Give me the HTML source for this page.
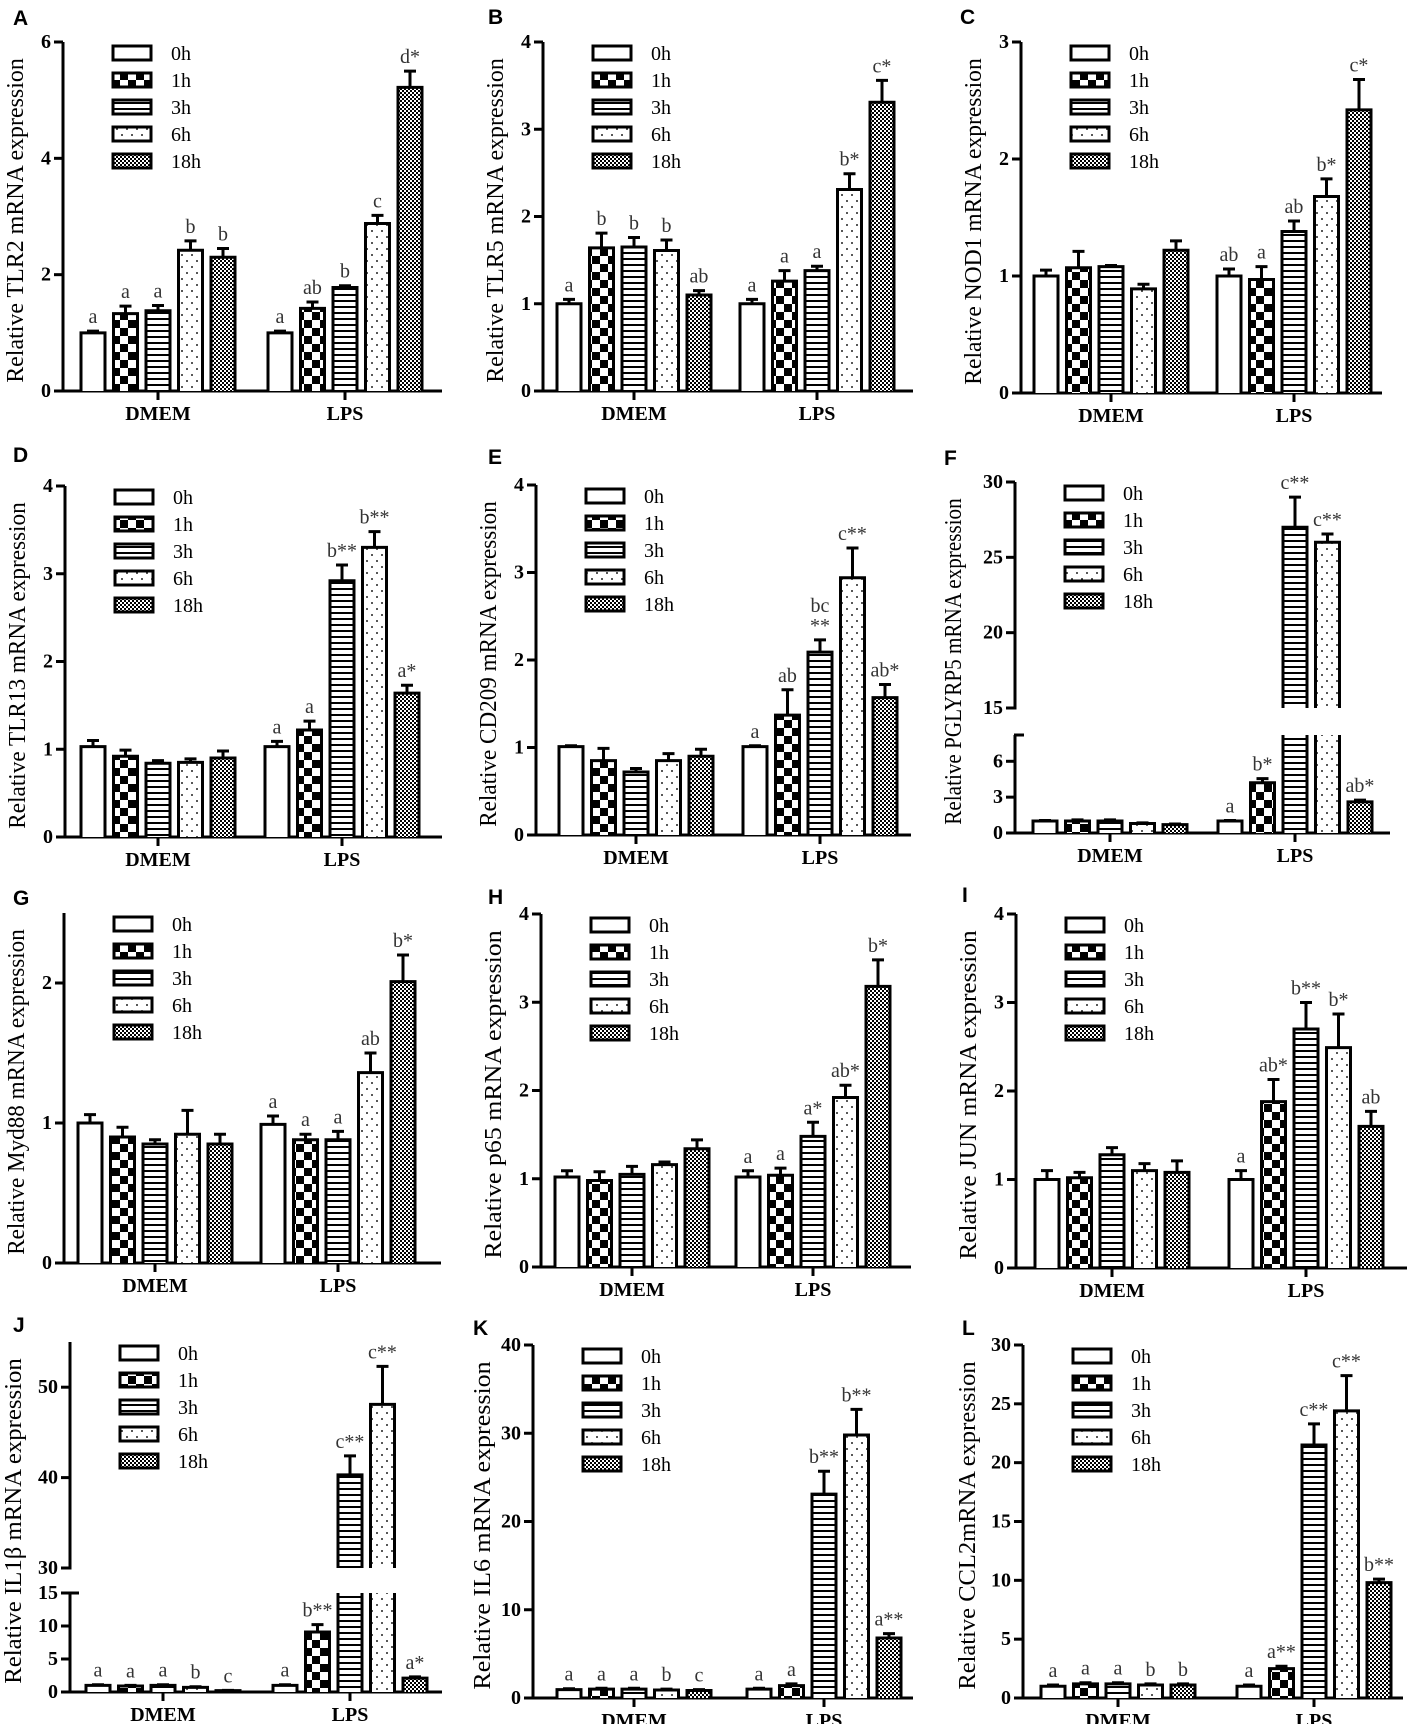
<!DOCTYPE html>
<html><head><meta charset="utf-8">
<style>
html,body{margin:0;padding:0;background:#fff;}
svg{display:block;}
text{font-family:"Liberation Serif",serif;}
.letter{font-family:"Liberation Sans",sans-serif;font-weight:bold;font-size:21px;}
</style></head>
<body>
<svg id="fig" width="1409" height="1724" viewBox="0 0 1409 1724" xmlns="http://www.w3.org/2000/svg">
<defs>
<pattern id="p1" width="16" height="16" patternUnits="userSpaceOnUse"><rect width="16" height="16" fill="#fff"/><rect width="8" height="8" fill="#000"/><rect x="8" y="8" width="8" height="8" fill="#000"/></pattern>
<pattern id="p3" width="6" height="6" patternUnits="userSpaceOnUse"><rect width="6" height="6" fill="#fff"/><rect y="0" width="6" height="2" fill="#000"/></pattern>
<pattern id="p6" width="10" height="12" patternUnits="userSpaceOnUse"><rect width="10" height="12" fill="#fff"/><circle cx="2" cy="3" r="1" fill="#222"/><circle cx="7" cy="9" r="1" fill="#222"/></pattern>
<pattern id="p18" width="4" height="4" patternUnits="userSpaceOnUse"><rect width="4" height="4" fill="#fff"/><rect width="2" height="2" fill="#000"/><rect x="2" y="2" width="2" height="2" fill="#000"/></pattern>
</defs>
</svg>
<script>
// ---------- data ----------
const groups = ["DMEM","LPS"];
const timepoints = ["0h","1h","3h","6h","18h"];

const tlr2Dmem = [1.0,1.33,1.38,2.42,2.3];
const tlr2DmemErr = [0.03,0.13,0.09,0.16,0.15];
const tlr2Lps = [1.0,1.42,1.78,2.88,5.22];
const tlr2LpsErr = [0.03,0.11,0.03,0.14,0.28];
const tlr2DmemLbl = ["a","a","a","b","b"];
const tlr2LpsLbl = ["a","ab","b","c","d*"];

const tlr5Dmem = [1.0,1.64,1.65,1.61,1.1];
const tlr5DmemErr = [0.05,0.17,0.11,0.12,0.05];
const tlr5Lps = [1.0,1.26,1.38,2.31,3.31];
const tlr5LpsErr = [0.05,0.12,0.05,0.18,0.25];
const tlr5DmemLbl = ["a","b","b","b","ab"];
const tlr5LpsLbl = ["a","a","a","b*","c*"];

const nod1Dmem = [1.0,1.07,1.08,0.89,1.22];
const nod1DmemErr = [0.05,0.14,0.01,0.04,0.08];
const nod1Lps = [1.0,0.97,1.38,1.68,2.42];
const nod1LpsErr = [0.06,0.11,0.09,0.15,0.26];
const nod1DmemLbl = ["","","","",""];
const nod1LpsLbl = ["ab","a","ab","b*","c*"];

const tlr13Dmem = [1.03,0.92,0.84,0.85,0.9];
const tlr13DmemErr = [0.07,0.07,0.03,0.04,0.08];
const tlr13Lps = [1.03,1.22,2.92,3.3,1.64];
const tlr13LpsErr = [0.06,0.1,0.18,0.18,0.09];
const tlr13DmemLbl = ["","","","",""];
const tlr13LpsLbl = ["a","a","b**","b**","a*"];

const cd209Dmem = [1.01,0.85,0.72,0.85,0.9];
const cd209DmemErr = [0.01,0.14,0.04,0.08,0.08];
const cd209Lps = [1.01,1.37,2.09,2.94,1.57];
const cd209LpsErr = [0.01,0.29,0.14,0.34,0.15];
const cd209DmemLbl = ["","","","",""];
const cd209LpsLbl = ["a","ab","bc|**","c**","ab*"];

const pglyrp5Dmem = [1.0,1.0,1.0,0.8,0.7];
const pglyrp5DmemErr = [0.05,0.1,0.1,0.05,0.05];
const pglyrp5Lps = [1.0,4.2,27.0,26.0,2.6];
const pglyrp5LpsErr = [0.05,0.35,2.0,0.55,0.15];
const pglyrp5DmemLbl = ["","","","",""];
const pglyrp5LpsLbl = ["a","b*","c**","c**","ab*"];

const myd88Dmem = [1.0,0.9,0.85,0.92,0.85];
const myd88DmemErr = [0.06,0.07,0.03,0.17,0.07];
const myd88Lps = [0.99,0.88,0.88,1.36,2.01];
const myd88LpsErr = [0.06,0.04,0.06,0.14,0.19];
const myd88DmemLbl = ["","","","",""];
const myd88LpsLbl = ["a","a","a","ab","b*"];

const p65Dmem = [1.02,0.98,1.05,1.16,1.34];
const p65DmemErr = [0.07,0.1,0.09,0.03,0.1];
const p65Lps = [1.02,1.04,1.48,1.92,3.18];
const p65LpsErr = [0.07,0.08,0.16,0.14,0.3];
const p65DmemLbl = ["","","","",""];
const p65LpsLbl = ["a","a","a*","ab*","b*"];

const junDmem = [1.0,1.02,1.28,1.1,1.08];
const junDmemErr = [0.1,0.06,0.08,0.08,0.13];
const junLps = [1.0,1.88,2.7,2.49,1.6];
const junLpsErr = [0.1,0.25,0.3,0.38,0.17];
const junDmemLbl = ["","","","",""];
const junLpsLbl = ["a","ab*","b**","b*","ab"];

const il1bDmem = [1.0,0.9,1.0,0.7,0.2];
const il1bDmemErr = [0.1,0.1,0.1,0.1,0.05];
const il1bLps = [1.0,9.1,40.3,48.1,2.1];
const il1bLpsErr = [0.1,1.1,2.1,4.2,0.2];
const il1bDmemLbl = ["a","a","a","b","c"];
const il1bLpsLbl = ["a","b**","c**","c**","a*"];

const il6Dmem = [0.95,1.0,1.0,0.9,0.85];
const il6DmemErr = [0.1,0.1,0.1,0.1,0.1];
const il6Lps = [1.0,1.4,23.1,29.8,6.8];
const il6LpsErr = [0.1,0.2,2.6,2.9,0.5];
const il6DmemLbl = ["a","a","a","b","c"];
const il6LpsLbl = ["a","a","b**","b**","a**"];

const ccl2Dmem = [1.0,1.2,1.2,1.1,1.1];
const ccl2DmemErr = [0.1,0.1,0.1,0.1,0.1];
const ccl2Lps = [1.0,2.5,21.5,24.4,9.8];
const ccl2LpsErr = [0.1,0.2,1.8,3.0,0.3];
const ccl2DmemLbl = ["a","a","a","b","b"];
const ccl2LpsLbl = ["a","a**","c**","c**","b**"];

// ---------- layout ----------
const panels = [
 {key:"tlr2",L:"A",lx:13,ly:25,ax:63,g1:95,g2:282,end:379,ylab:"Relative TLR2 mRNA expression",
  dm:tlr2Dmem,de:tlr2DmemErr,lp:tlr2Lps,le:tlr2LpsErr,dl:tlr2DmemLbl,ll:tlr2LpsLbl,
  segs:[{lo:0,hi:6,yb:391,yt:42,ticks:[0,2,4,6]}]},
 {key:"tlr5",L:"B",lx:488,ly:24,ax:543,g1:91,g2:274,end:370,ylab:"Relative TLR5 mRNA expression",
  dm:tlr5Dmem,de:tlr5DmemErr,lp:tlr5Lps,le:tlr5LpsErr,dl:tlr5DmemLbl,ll:tlr5LpsLbl,
  segs:[{lo:0,hi:4,yb:391,yt:42,ticks:[0,1,2,3,4]}]},
 {key:"nod1",L:"C",lx:960,ly:24,ax:1021,g1:90,g2:273,end:361,ylab:"Relative NOD1 mRNA expression",
  dm:nod1Dmem,de:nod1DmemErr,lp:nod1Lps,le:nod1LpsErr,dl:nod1DmemLbl,ll:nod1LpsLbl,
  segs:[{lo:0,hi:3,yb:393,yt:42,ticks:[0,1,2,3]}]},
 {key:"tlr13",L:"D",lx:13,ly:462,ax:65,g1:93,g2:277,end:377,ylab:"Relative TLR13 mRNA expression",
  dm:tlr13Dmem,de:tlr13DmemErr,lp:tlr13Lps,le:tlr13LpsErr,dl:tlr13DmemLbl,ll:tlr13LpsLbl,
  segs:[{lo:0,hi:4,yb:837,yt:486,ticks:[0,1,2,3,4]}]},
 {key:"cd209",L:"E",lx:488,ly:464,ax:536,g1:100,g2:284,end:375,ylab:"Relative CD209 mRNA expression",
  dm:cd209Dmem,de:cd209DmemErr,lp:cd209Lps,le:cd209LpsErr,dl:cd209DmemLbl,ll:cd209LpsLbl,
  segs:[{lo:0,hi:4,yb:835,yt:485,ticks:[0,1,2,3,4]}]},
 {key:"pglyrp5",L:"F",lx:944,ly:465,ax:1015,g1:95,g2:280,end:375,ylab:"Relative PGLYRP5 mRNA expression",labOff:-62,
  dm:pglyrp5Dmem,de:pglyrp5DmemErr,lp:pglyrp5Lps,le:pglyrp5LpsErr,dl:pglyrp5DmemLbl,ll:pglyrp5LpsLbl,
  segs:[{lo:0,hi:8.2,yb:833,yt:735,ticks:[0,3,6]},{lo:15,hi:30,yb:708,yt:482,ticks:[15,20,25,30]}]},
 {key:"myd88",L:"G",lx:13,ly:905,ax:64,g1:91,g2:274,end:377,ylab:"Relative Myd88 mRNA expression",
  dm:myd88Dmem,de:myd88DmemErr,lp:myd88Lps,le:myd88LpsErr,dl:myd88DmemLbl,ll:myd88LpsLbl,
  segs:[{lo:0,hi:2.5,yb:1263,yt:913,ticks:[0,1,2]}]},
 {key:"p65",L:"H",lx:488,ly:904,ax:541,g1:91,g2:272,end:370,ylab:"Relative p65 mRNA expression",
  dm:p65Dmem,de:p65DmemErr,lp:p65Lps,le:p65LpsErr,dl:p65DmemLbl,ll:p65LpsLbl,
  segs:[{lo:0,hi:4,yb:1267,yt:914,ticks:[0,1,2,3,4]}]},
 {key:"jun",L:"I",lx:962,ly:902,ax:1016,g1:96,g2:290,end:391,ylab:"Relative JUN mRNA expression",
  dm:junDmem,de:junDmemErr,lp:junLps,le:junLpsErr,dl:junDmemLbl,ll:junLpsLbl,
  segs:[{lo:0,hi:4,yb:1268,yt:914,ticks:[0,1,2,3,4]}]},
 {key:"il1b",L:"J",lx:13,ly:1332,ax:70,g1:93,g2:280,end:372,ylab:"Relative IL1β  mRNA expression",labOff:-57,
  dm:il1bDmem,de:il1bDmemErr,lp:il1bLps,le:il1bLpsErr,dl:il1bDmemLbl,ll:il1bLpsLbl,
  segs:[{lo:0,hi:15,yb:1692,yt:1593,ticks:[0,5,10,15]},{lo:30,hi:55,yb:1568,yt:1342,ticks:[30,40,50]}]},
 {key:"il6",L:"K",lx:473,ly:1335,ax:533,g1:101,g2:291,end:380,ylab:"Relative IL6 mRNA expression",labOff:-51,
  dm:il6Dmem,de:il6DmemErr,lp:il6Lps,le:il6LpsErr,dl:il6DmemLbl,ll:il6LpsLbl,
  segs:[{lo:0,hi:40,yb:1698,yt:1345,ticks:[0,10,20,30,40]}]},
 {key:"ccl2",L:"L",lx:962,ly:1335,ax:1023,g1:95,g2:291,end:380,ylab:"Relative CCL2mRNA expression",labOff:-56,
  dm:ccl2Dmem,de:ccl2DmemErr,lp:ccl2Lps,le:ccl2LpsErr,dl:ccl2DmemLbl,ll:ccl2LpsLbl,
  segs:[{lo:0,hi:30,yb:1698,yt:1345,ticks:[0,5,10,15,20,25,30]}]}
];
const fills = ["#fff","url(#p1)","url(#p3)","url(#p6)","url(#p18)"];

const NS = "http://www.w3.org/2000/svg";
const svg = document.getElementById("fig");
function mk(tag, attrs, parent){
  const e = document.createElementNS(NS, tag);
  for (const k in attrs) e.setAttribute(k, attrs[k]);
  (parent||svg).appendChild(e);
  return e;
}
function segFor(p, v){
  for (const s of p.segs) if (v <= s.hi) return s;
  return p.segs[p.segs.length-1];
}
function yScale(s, v){ return s.yb - (v - s.lo)/(s.hi - s.lo)*(s.yb - s.yt); }

panels.forEach(p=>{
  const g = mk("g",{});
  
  
  const zeroY = p.segs[0].yb;
  const topY = p.segs[p.segs.length-1].yt;

  const lt = mk("text",{x:p.lx,y:p.ly,"class":"letter"},g);
  lt.textContent = p.L;
  
  

  p.segs.forEach(s=>{
    const ax = mk("line",{x1:p.ax,y1:s.yb+1.5,x2:p.ax,y2:s.yt,stroke:"#000","stroke-width":3},g);
    
    
    s.ticks.forEach(t=>{
      const y = yScale(s,t);
      const tk = mk("line",{x1:p.ax-9,y1:y,x2:p.ax,y2:y,stroke:"#000","stroke-width":3},g);
      
      
      const tl = mk("text",{x:p.ax-12,y:y+6,"text-anchor":"end","font-size":20,"font-weight":"bold"},g);
      tl.textContent = t;
      
      
    });
  });
  if (p.segs.length>1){
    const s0 = p.segs[0];
    const cap = mk("line",{x1:p.ax-1,y1:s0.yt,x2:p.ax+9,y2:s0.yt,stroke:"#000","stroke-width":3},g);
    
    
  }
  const xa = mk("line",{x1:p.ax-9,y1:zeroY,x2:p.ax+p.end,y2:zeroY,stroke:"#000","stroke-width":3},g);
  
  

  const lab = p.labOff || -48;
  const cy = (zeroY+topY)/2 + 4;
  const len = (zeroY-topY)*0.93;
  const yl = mk("text",{x:0,y:0,"text-anchor":"middle","font-size":24,textLength:len,lengthAdjust:"spacingAndGlyphs",
     transform:`translate(${p.ax+lab+8},${cy}) rotate(-90)`},g);
  yl.textContent = p.ylab;
  
  

  timepoints.forEach((tp,i)=>{
    const ly = topY + 11 + i*27;
    const bx = p.ax + 50;
    const r = mk("rect",{x:bx,y:ly-7,width:38,height:14,fill:fills[i],stroke:"#000","stroke-width":3},g);
    
    
    const t = mk("text",{x:bx+58,y:ly+7,"font-size":20},g);
    t.textContent = tp;
    
    
  });

  const sets = [[p.dm,p.de,p.dl,p.g1],[p.lp,p.le,p.ll,p.g2]];
  sets.forEach((set,gi)=>{
    const [vals,errs,lbls,goff] = set;
    const gc = p.ax + goff;
    const tk = mk("line",{x1:gc,y1:zeroY,x2:gc,y2:zeroY+9,stroke:"#000","stroke-width":3},g);
    
    
    const gl = mk("text",{x:gc,y:zeroY+29,"text-anchor":"middle","font-size":20,"font-weight":"bold"},g);
    gl.textContent = groups[gi];
    
    

    vals.forEach((v,i)=>{
      const cx = gc + (i-2)*32.5;
      const x = cx - 12, w = 24;
      p.segs.forEach(s=>{
        if (v <= s.lo) return;
        const closed = v <= s.hi;
        const yTop = yScale(s, Math.min(v, s.hi));
        const yBot = s.yb;
        const rf = mk("rect",{x:x,y:yTop,width:w,height:Math.max(0,yBot-yTop),fill:fills[i]},g);
        
        
        const d = closed ? `M${x},${yBot} L${x},${yTop} L${x+w},${yTop} L${x+w},${yBot}` :
                           `M${x},${yBot} L${x},${yTop} M${x+w},${yTop} L${x+w},${yBot}`;
        const ol = mk("path",{d:d,fill:"none",stroke:"#000","stroke-width":3},g);
        
        
      });
      const s = segFor(p, v);
      const y0 = yScale(s, v), y1 = yScale(s, v+errs[i]);
      const eb = mk("path",{d:`M${cx},${y0} L${cx},${y1} M${cx-6},${y1} L${cx+6},${y1}`,stroke:"#000","stroke-width":3,fill:"none"},g);
      
      
      if (lbls[i]){
        const parts = lbls[i].split("|");
        parts.forEach((pt,k)=>{
          const at = mk("text",{x:cx,y:y1-8-(parts.length-1-k)*20,"text-anchor":"middle","font-size":20,fill:"#333"},g);
          at.textContent = pt;
          
          
        });
      }
    });
  });
});
</script>
</body></html>
